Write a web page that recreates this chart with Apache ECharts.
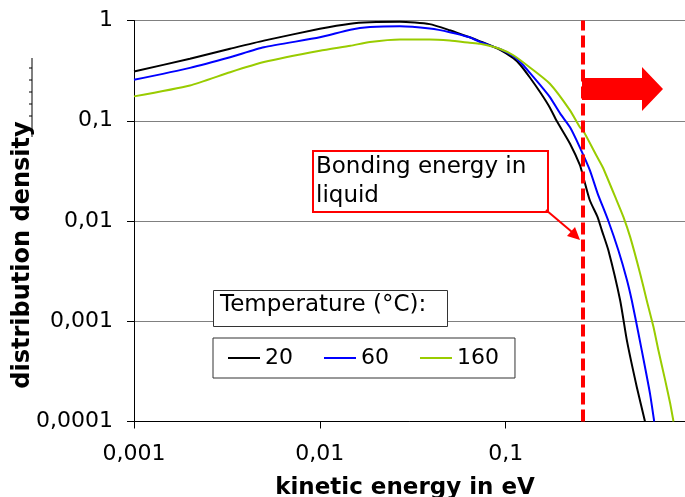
<!DOCTYPE html>
<html>
<head>
<meta charset="utf-8">
<script src="https://cdn.jsdelivr.net/npm/echarts@6/dist/echarts.min.js"></script>
<style>
html,body{margin:0;padding:0;background:#fff;}
#chart{width:685px;height:497px;}
</style>
</head>
<body>
<div id="chart"></div>
<script>
// ---- data ----
var seriesNames = ['20', '60', '160'];
var seriesColors = ['#000000', '#0000ff', '#99cc00'];

var energy20 = [0.001, 0.002, 0.00329, 0.005, 0.01, 0.0146, 0.0186, 0.027, 0.039, 0.05, 0.064, 0.0729, 0.0933, 0.11, 0.12, 0.135, 0.154, 0.173, 0.188, 0.222, 0.251, 0.261, 0.284, 0.312, 0.329, 0.357, 0.413, 0.449, 0.508, 0.562];
var density20 = [0.31, 0.415, 0.522, 0.63, 0.826, 0.93, 0.96, 0.97, 0.92, 0.8, 0.68, 0.62, 0.51, 0.42, 0.36, 0.27, 0.19, 0.135, 0.1, 0.059, 0.036, 0.028, 0.016, 0.011, 0.0081, 0.0051, 0.00162, 0.000645, 0.00022, 0.0001];

var energy60 = [0.001, 0.002, 0.00329, 0.005, 0.01, 0.0146, 0.0186, 0.027, 0.039, 0.05, 0.064, 0.0729, 0.0933, 0.11, 0.124, 0.135, 0.154, 0.173, 0.197, 0.222, 0.251, 0.284, 0.312, 0.357, 0.404, 0.449, 0.477, 0.518, 0.562, 0.598, 0.63];
var density60 = [0.256, 0.337, 0.43, 0.54, 0.68, 0.81, 0.86, 0.877, 0.83, 0.765, 0.68, 0.61, 0.52, 0.44, 0.36, 0.3, 0.225, 0.172, 0.117, 0.086, 0.054, 0.032, 0.019, 0.01, 0.0051, 0.0026, 0.00162, 0.00076, 0.00035, 0.00019, 0.0001];

var energy160 = [0.001, 0.002, 0.00329, 0.005, 0.01, 0.0146, 0.0186, 0.027, 0.039, 0.05, 0.064, 0.0729, 0.0933, 0.11, 0.135, 0.173, 0.222, 0.251, 0.261, 0.312, 0.334, 0.396, 0.43, 0.468, 0.529, 0.574, 0.624, 0.664, 0.721, 0.767, 0.80];
var density160 = [0.175, 0.225, 0.305, 0.385, 0.5, 0.56, 0.61, 0.646, 0.646, 0.63, 0.6, 0.585, 0.52, 0.45, 0.34, 0.234, 0.127, 0.086, 0.08, 0.043, 0.034, 0.016, 0.011, 0.0069, 0.003, 0.00162, 0.00088, 0.00051, 0.00026, 0.000153, 0.0001];

var bondingEnergy = 0.261;
var xMin = 0.001, xMax = 1;
var yMin = 0.0001, yMax = 1;

var xTitle = 'kinetic energy in eV';
var yTitle = 'distribution density';
var legendTitle = 'Temperature (°C):';
var noteText = 'Bonding energy in\nliquid';

// ---- build ----
function zip(xs, ys) { return xs.map(function (x, i) { return [x, ys[i]]; }); }
var energies = [energy20, energy60, energy160];
var densities = [density20, density60, density160];

function fmt(v) {
  var s = String(Number(v.toPrecision(6)));
  if (s.indexOf('e') >= 0) s = v.toFixed(6).replace(/0+$/, '');
  return s.replace('.', ',');
}

var FONT = 'DejaVu Sans';
var chart = echarts.init(document.getElementById('chart'), null, { renderer: 'canvas' });

var series = seriesNames.map(function (n, i) {
  return {
    name: n,
    type: 'line',
    data: zip(energies[i], densities[i]),
    showSymbol: false,
    symbol: 'none',
    smooth: 0.2,
    lineStyle: { color: seriesColors[i], width: 2 },
    itemStyle: { color: seriesColors[i] },
    z: 3
  };
});
series[0].markLine = {
  silent: true,
  symbol: ['none', 'none'],
  label: { show: false },
  lineStyle: { color: '#ff0000', width: 4, type: [12, 5] },
  data: [{ xAxis: bondingEnergy }]
};

var option = {
  animation: false,
  backgroundColor: '#ffffff',
  grid: { left: 134, top: 20.5, width: 557.5, height: 401, containLabel: false, outerBoundsMode: 'none' },
  xAxis: {
    type: 'log', logBase: 10, min: xMin, max: xMax,
    axisLine: { lineStyle: { color: '#000', width: 1 } },
    axisTick: { show: true, length: 7, lineStyle: { color: '#000' } },
    minorTick: { show: false },
    splitLine: { show: false },
    axisLabel: { color: '#000', fontFamily: FONT, fontSize: 22, margin: 22, formatter: fmt, showMaxLabel: true }
  },
  yAxis: {
    type: 'log', logBase: 10, min: yMin, max: yMax,
    axisLine: { show: true, lineStyle: { color: '#000', width: 1 } },
    axisTick: { show: true, length: 7, lineStyle: { color: '#000' } },
    splitLine: { show: true, lineStyle: { color: '#808080', width: 1 } },
    axisLabel: { color: '#000', fontFamily: FONT, fontSize: 22, margin: 21, formatter: fmt }
  },
  legend: {
    data: seriesNames,
    left: 213, top: 338,
    orient: 'horizontal',
    icon: 'rect',
    itemWidth: 32, itemHeight: 2,
    itemGap: 31,
    padding: [9, 16, 9, 15],
    borderColor: '#333', borderWidth: 1,
    backgroundColor: '#fff',
    textStyle: { color: '#000', fontFamily: FONT, fontSize: 22 }
  },
  series: series,
  graphic: [
    // legend title box
    { type: 'rect', left: 213, top: 290, shape: { width: 234, height: 36 }, style: { fill: '#fff', stroke: '#333', lineWidth: 1 }, z: 10 },
    { type: 'text', left: 220, top: 294, style: { text: legendTitle, font: '23px "DejaVu Sans"', fill: '#000' }, z: 11 },
    // annotation box
    { type: 'rect', left: 312, top: 150, shape: { width: 235, height: 61 }, style: { fill: '#fff', stroke: '#ff0000', lineWidth: 2 }, z: 10 },
    { type: 'text', left: 316, top: 153, style: { text: noteText, font: '23px "DejaVu Sans"', lineHeight: 29, fill: '#000' }, z: 11 },
    // leader arrow
    { type: 'line', shape: { x1: 546, y1: 210, x2: 572, y2: 232 }, style: { stroke: '#ff0000', lineWidth: 2 }, z: 12 },
    { type: 'polygon', shape: { points: [[580, 240], [567, 236], [575, 227]] }, style: { fill: '#ff0000' }, z: 12 },
    // big arrow
    { type: 'polygon', shape: { points: [[582, 78], [642, 78], [642, 67], [663, 89], [642, 111], [642, 100], [582, 100]] }, style: { fill: '#ff0000' }, z: 12 },
    // axis titles
    { type: 'text', x: 405, y: 488, style: { text: xTitle, font: 'bold 23px "DejaVu Sans"', fill: '#000', align: 'center', verticalAlign: 'middle' }, z: 11 },
    { type: 'text', x: 23, y: 255, rotation: Math.PI / 2, style: { text: yTitle, font: 'bold 24px "DejaVu Sans"', fill: '#000', align: 'center', verticalAlign: 'middle' }, z: 11 },
    // stray tick artifact near top left
    { type: 'polyline', shape: { points: [[32, 58], [32, 137]] }, style: { stroke: '#000', lineWidth: 1 }, z: 11 },
    { type: 'polyline', shape: { points: [[29, 68], [32, 68]] }, style: { stroke: '#000', lineWidth: 1 }, z: 11 },
    { type: 'polyline', shape: { points: [[29, 80], [32, 80]] }, style: { stroke: '#000', lineWidth: 1 }, z: 11 },
    { type: 'polyline', shape: { points: [[29, 92], [32, 92]] }, style: { stroke: '#000', lineWidth: 1 }, z: 11 },
    { type: 'polyline', shape: { points: [[29, 104], [32, 104]] }, style: { stroke: '#000', lineWidth: 1 }, z: 11 },
    { type: 'polyline', shape: { points: [[29, 116], [32, 116]] }, style: { stroke: '#000', lineWidth: 1 }, z: 11 }
  ]
};
chart.setOption(option);
</script>
</body>
</html>
